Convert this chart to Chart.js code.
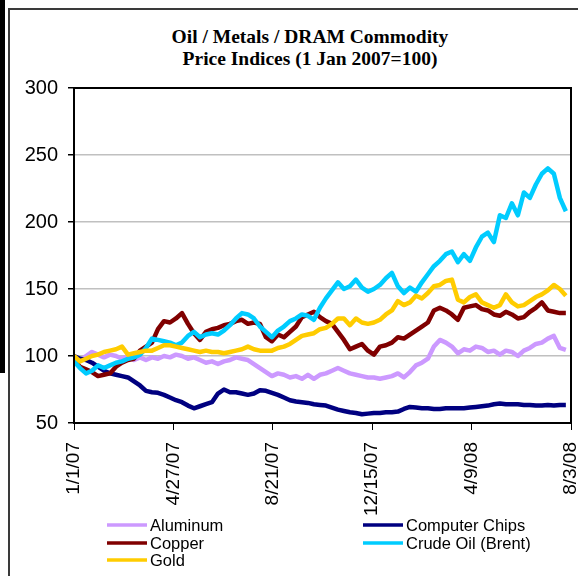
<!DOCTYPE html>
<html>
<head>
<meta charset="utf-8">
<script src="https://cdn.jsdelivr.net/npm/chart.js@4.4.1/dist/chart.umd.min.js"></script>
<style>
  html, body { margin: 0; padding: 0; background: #fff; }
  #wrap { position: relative; width: 578px; height: 576px; overflow: hidden; }
  #bar { position: absolute; left: 0; top: 0; width: 5px; height: 373px; background: #000; }
  #frame { position: absolute; left: 8px; top: 8px; width: 570px; height: 568px;
           border-left: 2px solid #3a3a3a; border-top: 2px solid #3a3a3a; }
  #title { position: absolute; left: 42px; top: 26px; width: 536px; text-align: center;
           font: bold 19.5px/22px "Liberation Serif", "Times New Roman", serif; color: #000; }
  canvas { position: absolute; left: 0; top: 0; }
</style>
</head>
<body>
<div id="wrap">
  <div id="bar"></div>
  <div id="frame"></div>
  <div id="title">Oil / Metals / DRAM Commodity<br>Price Indices (1 Jan 2007=100)</div>
  <canvas id="chart" width="578" height="576"></canvas>
</div>
<script>
// days since 1 Jan 2007, one sample per week
const days = [0, 7, 14, 21, 28, 35, 42, 49, 56, 63, 70, 77, 84, 91, 98, 105, 112, 119, 126, 133,
    140, 147, 154, 161, 168, 175, 182, 189, 196, 203, 210, 217, 224, 231, 238, 245, 252, 259, 266, 273,
    280, 287, 294, 301, 308, 315, 322, 329, 336, 343, 350, 357, 364, 371, 378, 385, 392, 399, 406, 413,
    420, 427, 434, 441, 448, 455, 462, 469, 476, 483, 490, 497, 504, 511, 518, 525, 532, 539, 546, 553,
    560, 567, 574];

const xTickLabels = ['1/1/07', '4/27/07', '8/21/07', '12/15/07', '4/9/08', '8/3/08'];
const yTicks = [50, 100, 150, 200, 250, 300];

const aluminum = [99, 97, 100, 103, 101, 99, 101, 100, 98, 100, 97, 99, 97, 99, 98, 100, 99, 101, 100, 98,
    99, 97, 95, 96, 94, 96, 97, 99, 98, 97, 94, 91, 88, 85, 87, 86, 84, 85, 83, 86,
    83, 86, 87, 89, 91, 89, 87, 86, 85, 84, 84, 83, 84, 85, 87, 84, 88, 93, 95, 98,
    107, 112, 110, 107, 102, 105, 104, 107, 106, 103, 104, 101, 104, 103, 100, 104, 106, 109, 110, 113,
    115, 106, 104.5];

const computerChips = [100, 98, 97, 95, 92, 89, 87, 86, 85, 84, 81, 78, 74, 73, 72.5, 71, 69, 67, 65.5, 63,
    61, 62.5, 64, 65.5, 72, 75, 73, 73, 72, 71, 72, 74.5, 74, 72.5, 71, 69, 67, 66, 65.5, 65,
    64, 63.5, 63, 61.5, 60, 59, 58, 57.5, 56.5, 57, 57.5, 57.5, 58, 58, 58.5, 60.5, 62, 61.5, 61, 61,
    60.5, 60.5, 61, 61, 61, 61, 61.5, 62, 62.5, 63, 64, 64.5, 64, 64, 64, 63.5, 63.5, 63, 63, 63.5,
    63, 63.5, 63.5];

const copper = [97, 92, 90, 88, 85, 86, 87, 92, 95, 97, 98, 104, 107, 110, 120, 126, 125, 128, 132, 124,
    117, 112, 118, 120, 121, 123, 124, 126, 127, 124, 125, 124, 114, 111, 116, 114, 118, 122, 129, 131,
    133, 129, 126, 124, 118, 112, 105, 107, 109, 104, 101, 107, 108, 110, 114, 113, 116, 119, 122, 125,
    134, 136, 134, 131, 127, 136, 137, 138, 135, 134, 131, 130, 133, 131, 128, 129, 133, 136, 140, 134,
    133, 132, 132];

const crudeOil = [96, 91, 87, 89, 93, 91, 93, 95, 96, 98, 99, 101, 106, 113, 112, 111, 110, 108, 110, 115,
    118, 114, 116, 117, 116, 119, 123, 128, 132, 131, 128, 122, 118, 114, 119, 122, 126, 128, 131, 130,
    127, 136, 143, 149, 155, 150, 152, 157, 151, 148, 150, 153, 158, 162, 152, 147, 151, 148, 155, 161,
    167, 171, 176, 178, 170, 176, 171, 181, 189, 192, 185, 205, 203, 214, 205, 222, 218, 228, 236, 240,
    236, 218, 208];

const gold = [100, 96, 98, 100, 101, 103, 104, 105, 107, 101, 102, 103, 104, 104, 106, 108, 108, 107, 106, 105,
    104, 103, 104, 103, 103, 102, 103, 104, 105, 107, 105, 104, 104, 104, 106, 107, 109, 112, 115, 116,
    117, 120, 121, 124, 128, 128, 123, 128, 125, 124, 125, 127, 131, 134, 141, 138, 140, 145, 143, 147,
    152, 153, 156, 157, 142, 140, 144, 146, 140, 138, 136, 138, 146, 140, 137, 138, 141, 144, 146, 149,
    153, 150, 145];

const seriesNames = ['Aluminum', 'Computer Chips', 'Copper', 'Crude Oil (Brent)', 'Gold'];
const seriesData = [aluminum, computerChips, copper, crudeOil, gold];
const seriesColors = ['#CC99FF', '#000080', '#800000', '#00CCFF', '#FFCC00'];

const tickStep = 116;

// two column legend like the spreadsheet original
const twoColumnLegend = {
    id: 'twoColumnLegend',
    afterDraw(chart) {
        const ctx = chart.ctx;
        const colX = [107, 363];
        const rowY = [525, 543, 560];
        ctx.save();
        ctx.font = '16.5px "Liberation Sans", Arial, sans-serif';
        ctx.textBaseline = 'middle';
        ctx.fillStyle = '#000';
        chart.data.datasets.forEach((ds, i) => {
            const x = colX[i % 2];
            const y = rowY[Math.floor(i / 2)];
            ctx.strokeStyle = ds.borderColor;
            ctx.lineWidth = 3.5;
            ctx.beginPath();
            ctx.moveTo(x, y);
            ctx.lineTo(x + 40, y);
            ctx.stroke();
            ctx.fillText(ds.label, x + 43, y + 1);
        });
        ctx.restore();
    }
};

const plotBorder = {
    id: 'plotBorder',
    afterDatasetsDraw(chart) {
        const a = chart.chartArea;
        const ctx = chart.ctx;
        ctx.save();
        ctx.strokeStyle = '#000';
        ctx.lineWidth = 2;
        ctx.strokeRect(a.left, a.top, a.right - a.left, a.bottom - a.top);
        ctx.restore();
    }
};

const datasets = seriesNames.map((name, i) => ({
    label: name,
    data: days.map((d, j) => ({ x: d, y: seriesData[i][j] })),
    borderColor: seriesColors[i],
    backgroundColor: seriesColors[i],
    borderWidth: 4.5,
    pointRadius: 0,
    tension: 0,
    borderJoinStyle: 'round',
    order: seriesNames.length - i
}));

new Chart(document.getElementById('chart').getContext('2d'), {
    type: 'line',
    data: { datasets: datasets },
    plugins: [twoColumnLegend, plotBorder],
    options: {
        responsive: false,
        animation: false,
        layout: { padding: { left: 0, right: 7, top: 88, bottom: 53 } },
        plugins: {
            legend: { display: false },
            tooltip: { enabled: false },
            title: { display: false }
        },
        scales: {
            x: {
                type: 'linear',
                min: 0,
                max: tickStep * (xTickLabels.length - 1),
                afterFit(scale) {
                    scale.height = 100;
                    scale.paddingLeft = 0;
                    scale.paddingRight = 0;
                },
                ticks: {
                    stepSize: tickStep,
                    autoSkip: false,
                    minRotation: 90,
                    maxRotation: 90,
                    padding: 12,
                    color: '#000',
                    font: { family: '"Liberation Sans", Arial, sans-serif', size: 19 },
                    callback: (v) => xTickLabels[Math.round(v / tickStep)]
                },
                grid: { drawOnChartArea: false, drawTicks: true, tickLength: 7, color: '#000', lineWidth: 1 },
                border: { color: '#000', width: 2 }
            },
            y: {
                min: yTicks[0],
                max: yTicks[yTicks.length - 1],
                afterFit(scale) {
                    scale.width = 74;
                    scale.paddingTop = 0;
                    scale.paddingBottom = 0;
                },
                afterBuildTicks(scale) {
                    scale.ticks = yTicks.map(v => ({ value: v }));
                },
                ticks: {
                    padding: 10,
                    color: '#000',
                    font: { family: '"Liberation Sans", Arial, sans-serif', size: 20 }
                },
                grid: { color: '#C0C0C0', lineWidth: 1.5, tickColor: '#000', tickLength: 6, drawTicks: true },
                border: { color: '#000', width: 2 }
            }
        }
    }
});
</script>
</body>
</html>
